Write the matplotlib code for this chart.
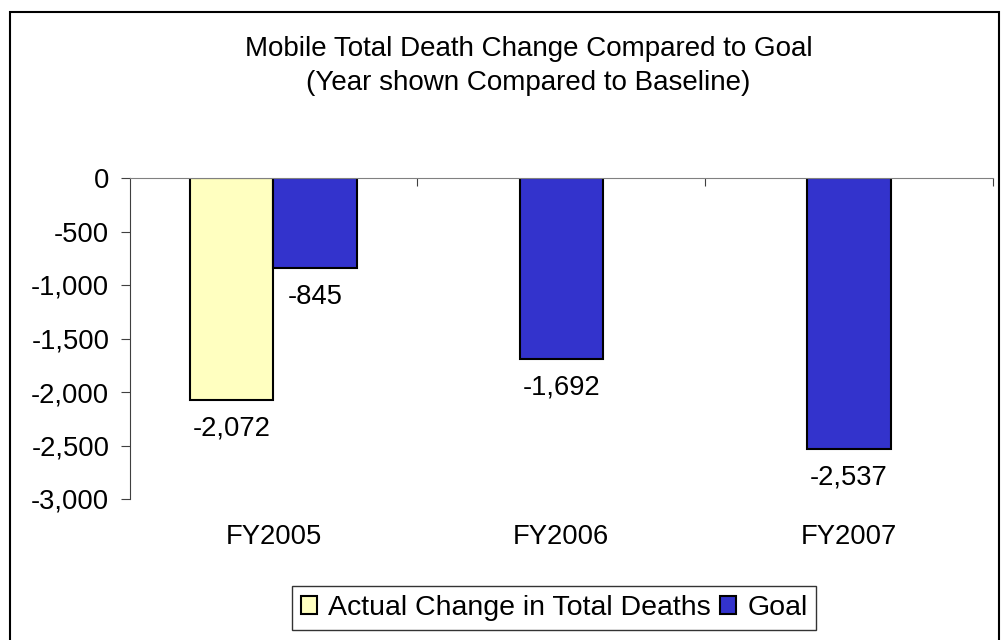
import matplotlib.pyplot as plt
from matplotlib.patches import Rectangle, Patch
from matplotlib.ticker import FuncFormatter

# ======================================
# DATA
# ======================================

categories = ["FY2005", "FY2006", "FY2007"]
actual_change = [-2072, None, None]
goal = [-845, -1692, -2537]

title_text = "Mobile Total Death Change Compared to Goal\n(Year shown Compared to Baseline)"

plt.rcParams["font.family"] = ["Liberation Sans", "DejaVu Sans"]
FS = 19.7

YELLOW = "#FFFFC0"
BLUE = "#3333CC"

fig = plt.figure(figsize=(10.03, 6.4), dpi=100)
ax = fig.add_axes([129.5 / 1003, 1 - 499 / 640, (993 - 129.5) / 1003, 321 / 640])

# ======================================
# BARS
# ======================================

w = 0.289
off = 28.5 * 3000 / 321  # label offset below bar end, in data units
for i, cat in enumerate(categories):
    a = actual_change[i]
    g = goal[i]
    if a is not None:
        xa, xg = i - w / 2, i + w / 2
        ax.bar(xa, a, width=w, color=YELLOW, edgecolor="black", linewidth=1.5)
        ax.text(xa, a - off, f"{a:,}", ha="center", va="center", fontsize=FS)
    else:
        xg = i
    ax.bar(xg, g, width=w, color=BLUE, edgecolor="black", linewidth=1.5)
    ax.text(xg, g - off, f"{g:,}", ha="center", va="center", fontsize=FS)

ax.set_xlim(-0.5, 2.5)
ax.set_ylim(-3000, 0)

# axes styling
for side in ["right", "bottom"]:
    ax.spines[side].set_visible(False)
ax.spines["top"].set_color("#808080")
ax.spines["left"].set_color("#404040")
ax.set_yticks(range(-3000, 1, 500))
ax.yaxis.set_major_formatter(FuncFormatter(lambda v, p: f"{v:,.0f}"))
ax.tick_params(axis="y", labelsize=FS, length=6.5, color="#404040", pad=8)

ax.set_xticks([0.5, 1.5, 2.5])
ax.tick_params(axis="x", which="major", top=True, bottom=False, labeltop=False,
               labelbottom=False, direction="in", length=6, color="#404040")
ax.set_xticks(range(len(categories)), minor=True)
ax.set_xticklabels(categories, minor=True)
ax.tick_params(axis="x", which="minor", bottom=True, top=False, length=0,
               labelsize=FS, pad=18)

# ======================================
# TITLE, LEGEND, BORDER
# ======================================

fig.text(0.527, 1 - 65.5 / 640, title_text, ha="center", va="center",
         fontsize=20, linespacing=1.4)

handles = [Patch(facecolor=YELLOW, edgecolor="black", linewidth=1.5),
           Patch(facecolor=BLUE, edgecolor="black", linewidth=1.5)]
leg = fig.legend(handles, ["Actual Change in Total Deaths", "Goal"],
                 loc="center", bbox_to_anchor=(554 / 1003, 1 - 608 / 640),
                 ncol=2, fontsize=20.5, frameon=True, fancybox=False,
                 handlelength=0.57, handleheight=0.57, handletextpad=0.4,
                 columnspacing=0.3, borderpad=0.3, borderaxespad=0)
leg.get_frame().set_edgecolor("black")
leg.get_frame().set_linewidth(1)

fig.patches.append(Rectangle((10 / 1003, -0.01), 989 / 1003, 1 - 12 / 640 + 0.01,
                             transform=fig.transFigure, fill=False,
                             edgecolor="black", linewidth=1.5))

fig.savefig("out.png", dpi=100)
